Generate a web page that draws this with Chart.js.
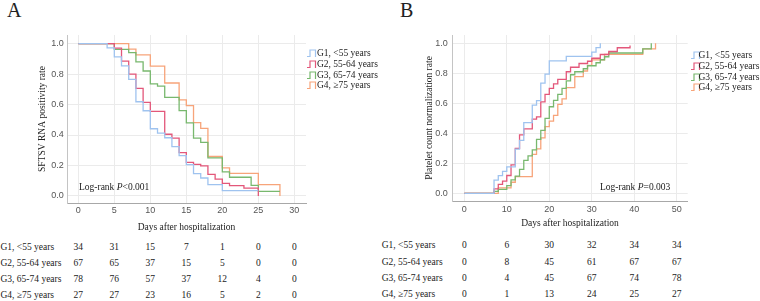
<!DOCTYPE html>
<html>
<head>
<meta charset="utf-8">
<script src="https://cdn.jsdelivr.net/npm/chart.js@4"></script>
<style>
  html, body { margin: 0; padding: 0; background: #fff; }
  body { width: 760px; height: 301px; position: relative; overflow: hidden; font-family: 'Liberation Serif', serif; color: #222; }
  canvas { position: absolute; top: 0; }
  .txt { position: absolute; font-size: 9.5px; line-height: 12px; white-space: nowrap; }
  .num { transform: translateX(-50%); }
  .panel { position: absolute; font-size: 20px; line-height: 20px; }
  .icon { position: absolute; }
</style>
</head>
<body>
<div class="panel" style="left:7px; top:0px;">A</div>
<div class="panel" style="left:400px; top:0px;">B</div>
<canvas id="chartA" width="320" height="235" style="left:0px"></canvas>
<canvas id="chartB" width="320" height="235" style="left:380px"></canvas>
<script>
const groupLabels = ['G1, <55 years', 'G2, 55-64 years', 'G3, 65-74 years', 'G4, \u226575 years'];
const groupColors = ['#9fc3ef', '#e3577a', '#78b86e', '#f7a47a'];

// A: SFTSV RNA positivity rate (Kaplan-Meier)
const daysA_G1 = [0, 4, 5, 6, 7, 8, 9, 10, 11, 12, 13, 14, 15, 16, 17, 18, 20, 25];
const rateA_G1 = [1, 0.971, 0.912, 0.853, 0.765, 0.618, 0.559, 0.441, 0.412, 0.382, 0.324, 0.265, 0.206, 0.147, 0.118, 0.074, 0.035, 0.035];
const daysA_G2 = [0, 5, 6, 7, 8, 9, 10, 12, 13, 14, 15, 16, 17, 18, 19, 20, 21, 23, 25];
const rateA_G2 = [1, 0.97, 0.885, 0.8, 0.706, 0.614, 0.555, 0.405, 0.38, 0.285, 0.221, 0.208, 0.197, 0.142, 0.111, 0.083, 0.068, 0.052, 0];
const daysA_G3 = [0, 5, 7, 8, 9, 10, 11, 12, 14, 15, 16, 17, 18, 20, 21, 24, 25, 28];
const rateA_G3 = [1, 0.962, 0.94, 0.88, 0.82, 0.735, 0.72, 0.647, 0.56, 0.48, 0.38, 0.352, 0.25, 0.158, 0.123, 0.07, 0.03, 0.03];
const daysA_G4 = [0, 7, 8, 10, 12, 14, 15, 16, 17, 18, 20, 21, 25, 28];
const rateA_G4 = [1, 0.963, 0.926, 0.852, 0.741, 0.63, 0.593, 0.481, 0.444, 0.259, 0.185, 0.148, 0.074, 0];

// B: platelet count normalization rate (cumulative)
const daysB_G1 = [0, 7, 8, 9, 10, 12, 13, 14, 16, 17, 18, 19, 20, 24, 30, 31, 32];
const rateB_G1 = [0, 0.088, 0.118, 0.147, 0.176, 0.294, 0.353, 0.471, 0.588, 0.618, 0.735, 0.794, 0.882, 0.912, 0.941, 0.971, 1.0];
const daysB_G2 = [0, 7, 8, 9, 10, 11, 12, 13, 14, 16, 17, 18, 19, 20, 21, 22, 24, 25, 27, 29, 30, 32, 34, 36, 39];
const rateB_G2 = [0, 0.03, 0.06, 0.082, 0.119, 0.19, 0.3, 0.39, 0.43, 0.495, 0.51, 0.61, 0.66, 0.7, 0.73, 0.76, 0.81, 0.84, 0.865, 0.88, 0.9, 0.925, 0.945, 0.97, 0.985];
const daysB_G3 = [0, 7, 8, 10, 11, 12, 13, 14, 15, 16, 17, 18, 19, 20, 21, 22, 23, 24, 25, 26, 28, 29, 31, 32, 33, 34, 42, 44];
const rateB_G3 = [0, 0.013, 0.026, 0.051, 0.09, 0.115, 0.16, 0.22, 0.25, 0.29, 0.36, 0.42, 0.5, 0.577, 0.62, 0.66, 0.7, 0.75, 0.79, 0.81, 0.83, 0.85, 0.87, 0.89, 0.91, 0.935, 0.962, 1.0];
const daysB_G4 = [0, 8, 11, 12, 16, 17, 18, 19, 20, 21, 22, 23, 24, 26, 28, 29, 30, 33, 42, 45];
const rateB_G4 = [0, 0.037, 0.074, 0.111, 0.259, 0.296, 0.37, 0.444, 0.481, 0.519, 0.593, 0.63, 0.704, 0.778, 0.815, 0.852, 0.889, 0.926, 0.963, 1.0];

const xTicksA = [0, 5, 10, 15, 20, 25, 30];
const xTicksB = [0, 10, 20, 30, 40, 50];
const yTicks = [0, 0.2, 0.4, 0.6, 0.8, 1.0];

// numbers at risk
const riskA = [
    [34, 31, 15, 7, 1, 0, 0],
    [67, 65, 37, 15, 5, 0, 0],
    [78, 76, 57, 37, 12, 4, 0],
    [27, 27, 23, 16, 5, 2, 0]
];
const riskB = [
    [0, 6, 30, 32, 34, 34],
    [0, 8, 45, 61, 67, 67],
    [0, 4, 45, 67, 74, 78],
    [0, 1, 13, 24, 25, 27]
];

function toPoints(days, rates) {
    return days.map((d, i) => ({ x: d, y: rates[i] }));
}

function buildChart(id, o) {
    const datasets = o.series.map((s, i) => ({
        label: groupLabels[i],
        data: toPoints(s[0], s[1]),
        borderColor: groupColors[i],
        borderWidth: 1.3,
        pointRadius: 0,
        stepped: true,
        fill: false
    }));
    return new Chart(document.getElementById(id), {
        type: 'line',
        data: { datasets: datasets },
        options: {
            responsive: false,
            animation: false,
            layout: { padding: { top: 35, right: o.padRight, left: 0, bottom: 0 } },
            plugins: { legend: { display: false }, tooltip: { enabled: false } },
            scales: {
                x: {
                    type: 'linear',
                    min: o.xMin,
                    max: o.xMax,
                    afterBuildTicks: s => { s.ticks = o.xTicks.map(v => ({ value: v })); },
                    afterFit: s => { s.height = o.xHeight; },
                    grid: { color: '#ebebeb', drawTicks: false },
                    border: { color: '#a8a8a8' },
                    ticks: { padding: o.xTickPad, color: '#555', maxRotation: 0, font: { family: 'Liberation Sans', size: 9 } },
                    title: {
                        display: true, text: 'Days after hospitalization', color: '#222',
                        font: { family: 'Liberation Serif', size: 9.5 },
                        padding: { top: 0, bottom: o.xTitlePad }
                    }
                },
                y: {
                    type: 'linear',
                    min: o.yMin,
                    max: o.yMax,
                    afterBuildTicks: s => { s.ticks = yTicks.map(v => ({ value: v })); },
                    afterFit: s => { s.width = o.yWidth; },
                    grid: { color: '#ebebeb', drawTicks: false },
                    border: { color: '#c4c4c4' },
                    ticks: { padding: o.yTickPad, color: '#555', callback: v => v.toFixed(1), font: { family: 'Liberation Sans', size: 9 } },
                    title: {
                        display: true, text: o.yTitle, color: '#222',
                        font: { family: 'Liberation Serif', size: 9.5 },
                        padding: { top: o.yTitlePad, bottom: 0 }
                    }
                }
            }
        }
    });
}

function addText(html, x, y, centered) {
    const d = document.createElement('div');
    d.className = centered ? 'txt num' : 'txt';
    d.innerHTML = html;
    d.style.left = x + 'px';
    d.style.top = (y - 6) + 'px';
    document.body.appendChild(d);
}

function esc(s) {
    return s.replace(/</g, '&lt;');
}

function riskTable(chart, left, ticks, rows, ys, labelX) {
    rows.forEach((row, r) => {
        addText(esc(groupLabels[r]), labelX, ys[r]);
        row.forEach((n, i) => addText(String(n), left + chart.scales.x.getPixelForValue(ticks[i]), ys[r], true));
    });
}

function legend(iconX, textX, ys) {
    groupLabels.forEach((lab, i) => {
        const svg = document.createElementNS('http://www.w3.org/2000/svg', 'svg');
        svg.setAttribute('width', '10');
        svg.setAttribute('height', '9');
        svg.setAttribute('class', 'icon');
        svg.style.left = iconX + 'px';
        svg.style.top = (ys[i] - 4) + 'px';
        const pl = document.createElementNS('http://www.w3.org/2000/svg', 'polyline');
        pl.setAttribute('points', '0,7.5 3,7.5 3,1 8.5,1 8.5,8');
        pl.setAttribute('fill', 'none');
        pl.setAttribute('stroke', groupColors[i]);
        pl.setAttribute('stroke-width', '1.2');
        svg.appendChild(pl);
        document.body.appendChild(svg);
        addText(esc(lab), textX, ys[i]);
    });
}

const chartA = buildChart('chartA', {
    series: [[daysA_G1, rateA_G1], [daysA_G2, rateA_G2], [daysA_G3, rateA_G3], [daysA_G4, rateA_G4]],
    xTicks: xTicksA, xMin: -1.57, xMax: 31.62,
    yMin: -0.046, yMax: 1.056,
    padRight: 14, xHeight: 32, yWidth: 67,
    xTickPad: 2, yTickPad: 3.3, xTitlePad: 2, yTitlePad: 36.3,
    yTitle: 'SFTSV RNA positivity rate'
});

const chartB = buildChart('chartB', {
    series: [[daysB_G1, rateB_G1], [daysB_G2, rateB_G2], [daysB_G3, rateB_G3], [daysB_G4, rateB_G4]],
    xTicks: xTicksB, xMin: -2.82, xMax: 52.57,
    yMin: -0.051, yMax: 1.055,
    padRight: 12.3, xHeight: 34, yWidth: 72.3,
    xTickPad: 3.6, yTickPad: 4.6, xTitlePad: 6, yTitlePad: 43.3,
    yTitle: 'Platelet count normalization rate'
});

riskTable(chartA, 0, xTicksA, riskA, [246.7, 263.3, 279.3, 294.7], 0.5);
riskTable(chartB, 380, xTicksB, riskB, [245, 261.7, 277.7, 294], 381.7);

legend(306.7, 317, [53.3, 64, 74.7, 85.3]);
legend(691, 698.5, [55.3, 66, 76.7, 87.3]);

addText('Log-rank <i>P</i>&lt;0.001', 79, 186.7);
addText('Log-rank <i>P</i>=0.003', 600, 186.7);
</script>
</body>
</html>
